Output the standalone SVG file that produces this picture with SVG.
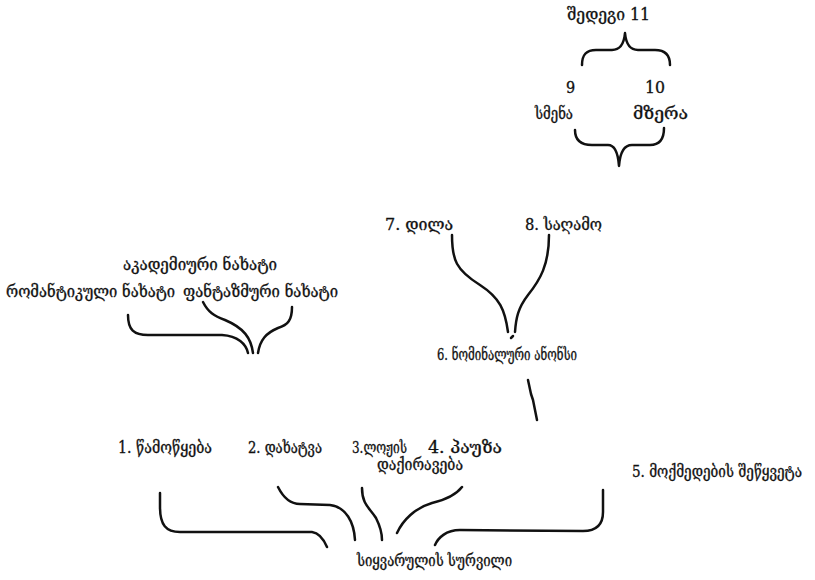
<svg xmlns="http://www.w3.org/2000/svg" width="815" height="580" viewBox="0 0 815 580">
<style>
text{font-family:"DejaVu Serif Condensed","DejaVu Serif","DejaVu Sans",serif;font-size:16px;fill:#111;stroke:#111;stroke-width:0.3;}
.c{fill:none;stroke:#111;stroke-width:2.5;stroke-linecap:round;stroke-linejoin:round;}
</style>
<rect width="815" height="580" fill="#fff"/>
<g id="connectors">
<path class="c" d="M582,65 C582,55 586,50 596,50 L612,50 C620,50 624,44 625,33 C626,44 630,50 638,50 L655,50 C665,50 670,55 670,65"/>
<path class="c" d="M575,130 C575,140 580,145 592,145 L608,145 C614,145 618,152 619,166 C620,152 624,145 632,145 L650,145 C660,145 664,138 664,128"/>
<path class="c" d="M452,235 C452,260 456,270 480,285 C500,298 505,310 508,332"/>
<path class="c" d="M549,235 C549,265 540,280 528,295 C518,308 516,318 515,332"/>
<path class="c" d="M511,338 L513,336"/>
<path class="c" d="M528,380 L531,394 L533,400 L537,420"/>
<path class="c" d="M128,315 C128,330 134,335 148,335 L222,335 C238,336 246,344 248,353"/>
<path class="c" d="M203,302 C208,312 214,316 225,320 C244,328 251,338 253,353"/>
<path class="c" d="M292,307 C292,320 288,325 278,328 C266,333 260,340 258,353"/>
<path class="c" d="M160,493 L160,507 C160,525 166,532 180,532 L312,532 C320,533 324,540 327,547"/>
<path class="c" d="M278,487 C283,497 290,504 300,504 L330,505 C346,507 354,522 355,540"/>
<path class="c" d="M362,488 C362,505 370,508 376,518 C380,526 382,533 382,540"/>
<path class="c" d="M462,487 C455,496 445,500 432,503 C415,508 403,520 397,533"/>
<path class="c" d="M603,490 L603,512 C603,525 596,531 583,531 L460,530 C446,530 438,538 435,545"/>
</g>
<g id="n11"><text x="567" y="20" font-size="17" textLength="83" lengthAdjust="spacingAndGlyphs">შედეგი 11</text></g>
<g id="n9"><text x="566" y="93" font-size="17">9</text><text x="535" y="119" font-size="15" textLength="38" lengthAdjust="spacingAndGlyphs">სმენა</text></g>
<g id="n10"><text x="645" y="93" font-size="17" textLength="20" lengthAdjust="spacingAndGlyphs">10</text><text x="633" y="119" font-size="17" textLength="55" lengthAdjust="spacingAndGlyphs">მზერა</text></g>
<g id="n7"><text x="385" y="230" font-size="17" textLength="68" lengthAdjust="spacingAndGlyphs">7. დილა</text></g>
<g id="n8"><text x="525" y="230" font-size="16" textLength="77" lengthAdjust="spacingAndGlyphs">8. საღამო</text></g>
<g id="n6"><text x="437" y="360" font-size="15.5" textLength="140" lengthAdjust="spacingAndGlyphs">6. ნომინალური ანონსი</text></g>
<g id="nAcad"><text x="123" y="270" font-size="16" textLength="154" lengthAdjust="spacingAndGlyphs">აკადემიური ნახატი</text></g>
<g id="nRom"><text x="6" y="297" font-size="16" textLength="169" lengthAdjust="spacingAndGlyphs">რომანტიკული ნახატი</text></g>
<g id="nFan"><text x="183" y="297" font-size="16" textLength="155" lengthAdjust="spacingAndGlyphs">ფანტაზმური ნახატი</text></g>
<g id="n1"><text x="118" y="453" font-size="15" textLength="94" lengthAdjust="spacingAndGlyphs">1. წამოწყება</text></g>
<g id="n2"><text x="248" y="453" font-size="15" textLength="74" lengthAdjust="spacingAndGlyphs">2. დახატვა</text></g>
<g id="n3"><text x="352" y="453" font-size="15" textLength="55" lengthAdjust="spacingAndGlyphs">3.ლოჟის</text><text x="377" y="470" font-size="15" textLength="86" lengthAdjust="spacingAndGlyphs">დაქირავება</text></g>
<g id="n4"><text x="428" y="453" font-size="15" textLength="74" lengthAdjust="spacingAndGlyphs">4. პაუზა</text></g>
<g id="n5"><text x="632" y="477" font-size="14" textLength="170" lengthAdjust="spacingAndGlyphs">5. მოქმედების შეწყვეტა</text></g>
<g id="nRoot"><text x="357" y="566" font-size="16" textLength="155" lengthAdjust="spacingAndGlyphs">სიყვარულის სურვილი</text></g>
</svg>
